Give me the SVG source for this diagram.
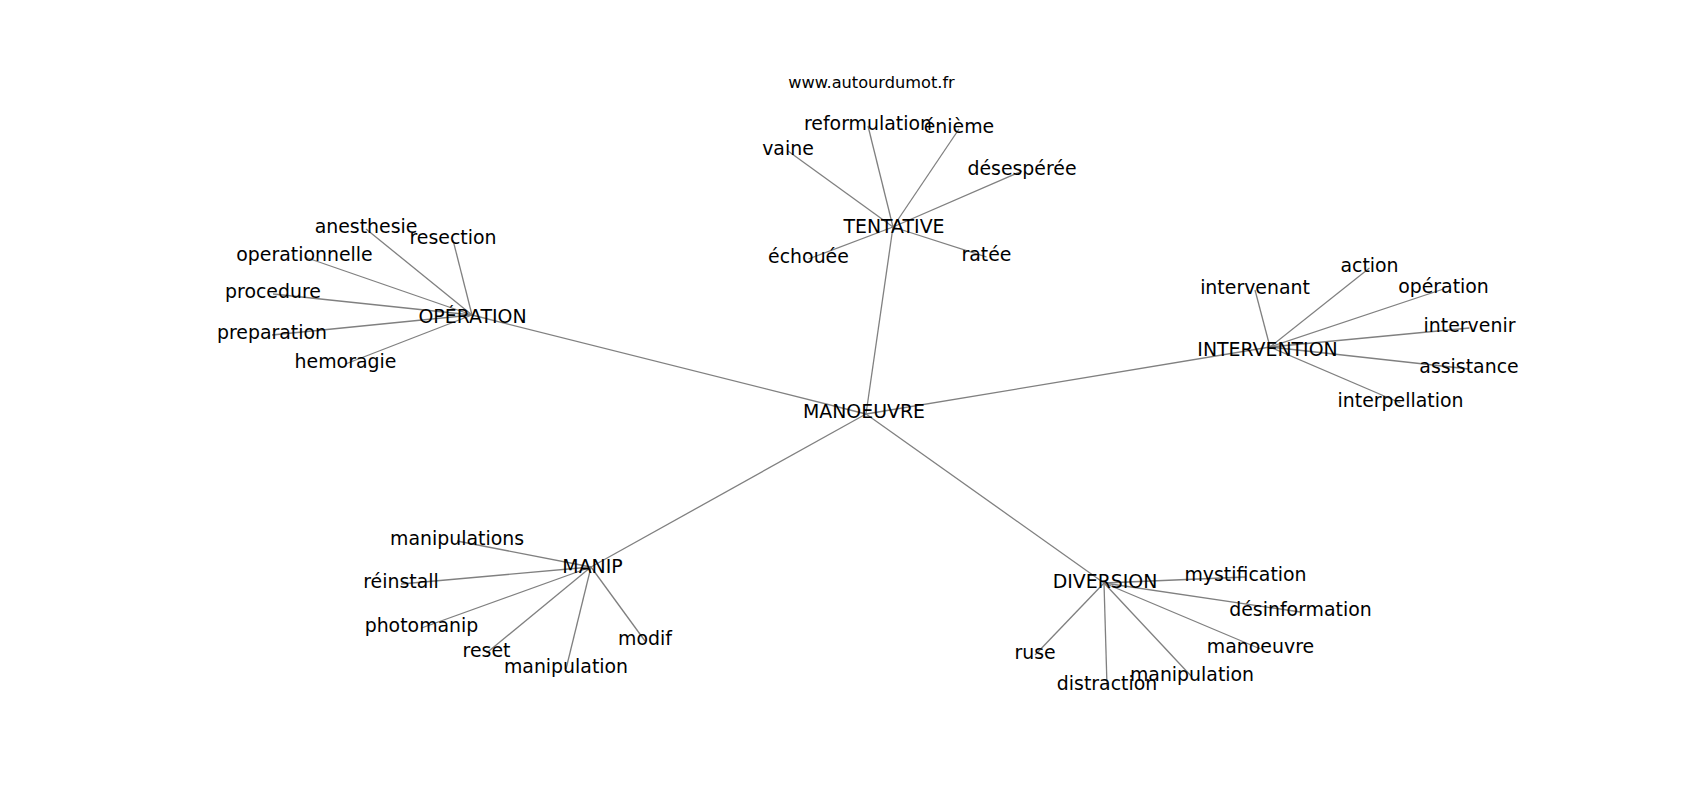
<svg xmlns="http://www.w3.org/2000/svg" width="1700" height="800" viewBox="0 0 1700 800">
<style>
.e{stroke:#808080;stroke-width:1.3;fill:none}
.t{font-family:"DejaVu Sans",sans-serif;font-size:18.9px;fill:#000;text-anchor:middle}
.w{font-family:"DejaVu Sans",sans-serif;font-size:16.2px;fill:#000;text-anchor:middle}
</style>
<rect width="1700" height="800" fill="#fff"/>
<text class="w" x="871.5" y="88.3">www.autourdumot.fr</text>
<g id="edges">
<line class="e" x1="866" y1="414" x2="472" y2="315"/>
<line class="e" x1="866" y1="414" x2="893" y2="227"/>
<line class="e" x1="866" y1="414" x2="1270" y2="347"/>
<line class="e" x1="866" y1="414" x2="591" y2="567"/>
<line class="e" x1="866" y1="414" x2="1104" y2="583"/>
<line class="e" x1="472" y1="315" x2="366" y2="229"/>
<line class="e" x1="472" y1="315" x2="453" y2="240"/>
<line class="e" x1="472" y1="315" x2="304.5" y2="257"/>
<line class="e" x1="472" y1="315" x2="273" y2="294"/>
<line class="e" x1="472" y1="315" x2="272" y2="335"/>
<line class="e" x1="472" y1="315" x2="345.5" y2="364"/>
<line class="e" x1="893" y1="227" x2="868" y2="126"/>
<line class="e" x1="893" y1="227" x2="959" y2="129"/>
<line class="e" x1="893" y1="227" x2="788" y2="151"/>
<line class="e" x1="893" y1="227" x2="1022" y2="171"/>
<line class="e" x1="893" y1="227" x2="808.5" y2="259"/>
<line class="e" x1="893" y1="227" x2="986.5" y2="257"/>
<line class="e" x1="1270" y1="347" x2="1369.5" y2="268"/>
<line class="e" x1="1270" y1="347" x2="1255" y2="290"/>
<line class="e" x1="1270" y1="347" x2="1443.5" y2="289"/>
<line class="e" x1="1270" y1="347" x2="1469.5" y2="328"/>
<line class="e" x1="1270" y1="347" x2="1469" y2="369"/>
<line class="e" x1="1270" y1="347" x2="1400.5" y2="403"/>
<line class="e" x1="591" y1="567" x2="457" y2="541"/>
<line class="e" x1="591" y1="567" x2="401" y2="584"/>
<line class="e" x1="591" y1="567" x2="421.5" y2="628"/>
<line class="e" x1="591" y1="567" x2="486.5" y2="653"/>
<line class="e" x1="591" y1="567" x2="566" y2="669"/>
<line class="e" x1="591" y1="567" x2="645" y2="641"/>
<line class="e" x1="1104" y1="583" x2="1245.5" y2="577"/>
<line class="e" x1="1104" y1="583" x2="1300.5" y2="612"/>
<line class="e" x1="1104" y1="583" x2="1260.5" y2="649"/>
<line class="e" x1="1104" y1="583" x2="1035" y2="655"/>
<line class="e" x1="1104" y1="583" x2="1192" y2="677"/>
<line class="e" x1="1104" y1="583" x2="1107" y2="686"/>
</g>
<g id="n-manoeuvre"><text class="t" x="864" y="418">MANOEUVRE</text></g>
<g id="n-operation"><text class="t" x="472.5" y="323">OPÉRATION</text></g>
<g id="n-tentative"><text class="t" x="894" y="233">TENTATIVE</text></g>
<g id="n-intervention"><text class="t" x="1267.5" y="355.5">INTERVENTION</text></g>
<g id="n-manip"><text class="t" x="592.5" y="572.5">MANIP</text></g>
<g id="n-diversion"><text class="t" x="1105" y="588">DIVERSION</text></g>
<g id="n-anesthesie"><text class="t" x="366" y="233">anesthesie</text></g>
<g id="n-resection"><text class="t" x="453" y="244">resection</text></g>
<g id="n-operationnelle"><text class="t" x="304.5" y="261">operationnelle</text></g>
<g id="n-procedure"><text class="t" x="273" y="298">procedure</text></g>
<g id="n-preparation"><text class="t" x="272" y="339">preparation</text></g>
<g id="n-hemoragie"><text class="t" x="345.5" y="368">hemoragie</text></g>
<g id="n-reformulation"><text class="t" x="868" y="130">reformulation</text></g>
<g id="n-enieme"><text class="t" x="959" y="132.7">énième</text></g>
<g id="n-vaine"><text class="t" x="788" y="155">vaine</text></g>
<g id="n-desesperee"><text class="t" x="1022" y="175">désespérée</text></g>
<g id="n-echouee"><text class="t" x="808.5" y="263">échouée</text></g>
<g id="n-ratee"><text class="t" x="986.5" y="260.7">ratée</text></g>
<g id="n-action"><text class="t" x="1369.5" y="271.7">action</text></g>
<g id="n-intervenant"><text class="t" x="1255" y="294.3">intervenant</text></g>
<g id="n-operation2"><text class="t" x="1443.5" y="292.7">opération</text></g>
<g id="n-intervenir"><text class="t" x="1469.5" y="331.7">intervenir</text></g>
<g id="n-assistance"><text class="t" x="1469" y="373.3">assistance</text></g>
<g id="n-interpellation"><text class="t" x="1400.5" y="406.7">interpellation</text></g>
<g id="n-manipulations"><text class="t" x="457" y="545">manipulations</text></g>
<g id="n-reinstall"><text class="t" x="401" y="588.3">réinstall</text></g>
<g id="n-photomanip"><text class="t" x="421.5" y="632.3">photomanip</text></g>
<g id="n-reset"><text class="t" x="486.5" y="657.3">reset</text></g>
<g id="n-manipulation1"><text class="t" x="566" y="672.7">manipulation</text></g>
<g id="n-modif"><text class="t" x="645" y="645">modif</text></g>
<g id="n-mystification"><text class="t" x="1245.5" y="580.7">mystification</text></g>
<g id="n-desinformation"><text class="t" x="1300.5" y="616">désinformation</text></g>
<g id="n-manoeuvre2"><text class="t" x="1260.5" y="653.3">manoeuvre</text></g>
<g id="n-ruse"><text class="t" x="1035" y="658.7">ruse</text></g>
<g id="n-manipulation2"><text class="t" x="1192" y="680.7">manipulation</text></g>
<g id="n-distraction"><text class="t" x="1107" y="690">distraction</text></g>
</svg>
